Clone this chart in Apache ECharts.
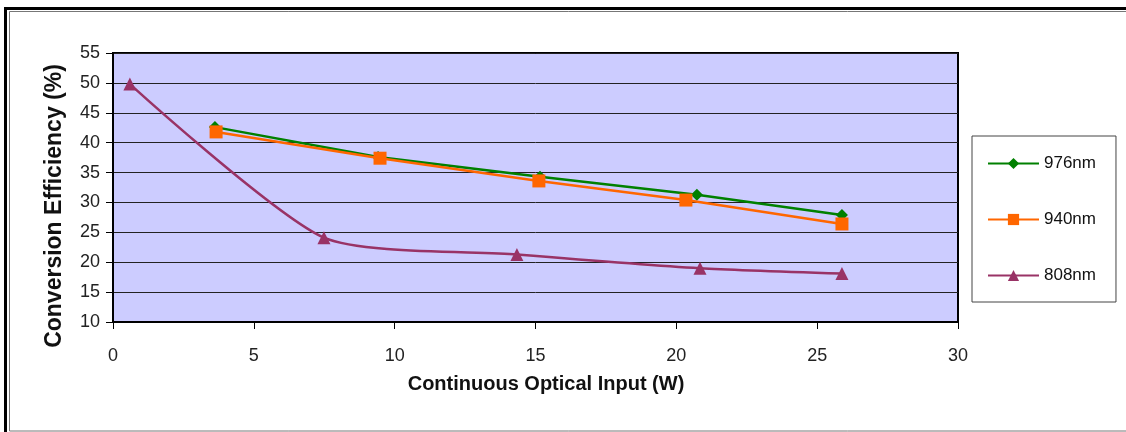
<!DOCTYPE html>
<html>
<head>
<meta charset="utf-8">
<script src="https://cdn.jsdelivr.net/npm/echarts@6/dist/echarts.min.js"></script>
<style>
html,body{margin:0;padding:0;background:#fff;}
#c{width:1126px;height:432px;}
</style>
</head>
<body>
<div id="c"></div>
<script>
// Data
var seriesNames = ['976nm', '940nm', '808nm'];
var data976 = [[3.62, 42.6], [9.41, 37.6], [15.16, 34.3], [20.73, 31.3], [25.88, 27.9]];
var data940 = [[3.66, 41.8], [9.48, 37.4], [15.12, 33.6], [20.34, 30.4], [25.88, 26.4]];
var data808 = [[0.6, 49.8], [7.49, 24.1], [14.34, 21.3], [20.84, 19.0], [25.88, 18.1]];
var xTitle = 'Continuous Optical Input (W)';
var yTitle = 'Conversion Efficiency (%)';

var chart = echarts.init(document.getElementById('c'), null, {renderer: 'canvas'});
var font = 'Liberation Sans, Arial, sans-serif';
chart.setOption({
  animation: false,
  backgroundColor: '#fff',
  textStyle: {fontFamily: font},
  grid: {
    left: 113, right: 168, top: 53, bottom: 110,
    show: true, backgroundColor: '#CCCCFF', borderColor: '#000', borderWidth: 2,
    containLabel: false
  },
  legend: {
    orient: 'vertical',
    left: 972, top: 136,
    data: seriesNames,
    itemWidth: 51, itemHeight: 14, itemGap: 39,
    padding: [19, 20, 18, 15],
    borderColor: '#444', borderWidth: 1,
    textStyle: {fontSize: 17, color: '#111', fontFamily: font}
  },
  xAxis: {
    type: 'value', min: 0, max: 30, interval: 5,
    axisLine: {show: true, lineStyle: {color: '#000', width: 2}},
    axisTick: {show: true, length: 7, lineStyle: {color: '#000'}},
    axisLabel: {fontSize: 18, color: '#222', margin: 25, fontFamily: font},
    splitLine: {show: false}
  },
  yAxis: {
    type: 'value', min: 10, max: 55, interval: 5,
    axisLine: {show: true, lineStyle: {color: '#000', width: 2}},
    axisTick: {show: true, length: 7, lineStyle: {color: '#000'}},
    axisLabel: {fontSize: 18, color: '#222', margin: 13, fontFamily: font},
    splitLine: {show: true, lineStyle: {color: '#222', width: 1}}
  },
  graphic: [
    {type: 'rect', shape: {x: 5.5, y: 8.5, width: 1130, height: 430}, style: {fill: 'none', stroke: '#000', lineWidth: 3}, silent: true, z: 100},
    {type: 'rect', shape: {x: 9.5, y: 11.5, width: 1130, height: 419.5}, style: {fill: 'none', stroke: '#777', lineWidth: 1}, silent: true, z: 100},
    {type: 'text', x: 55, y: 206, rotation: Math.PI / 2, style: {text: yTitle, font: 'bold 23px ' + font, fill: '#111', align: 'center', verticalAlign: 'middle'}, silent: true},
    {type: 'text', x: 546, y: 384, style: {text: xTitle, font: 'bold 20px ' + font, fill: '#111', align: 'center', verticalAlign: 'middle'}, silent: true}
  ],
  series: [
    {name: seriesNames[0], type: 'line', data: data976, symbol: 'diamond', symbolSize: 12,
     itemStyle: {color: '#008000'}, lineStyle: {color: '#008000', width: 2.5}, z: 3},
    {name: seriesNames[1], type: 'line', data: data940, symbol: 'rect', symbolSize: 13,
     itemStyle: {color: '#FF6600'}, lineStyle: {color: '#FF6600', width: 2.5}, z: 4},
    {name: seriesNames[2], type: 'line', data: data808, symbol: 'triangle', symbolSize: 13, smooth: 0.22,
     itemStyle: {color: '#993366'}, lineStyle: {color: '#993366', width: 2.5}, z: 2}
  ]
});
</script>
</body>
</html>
